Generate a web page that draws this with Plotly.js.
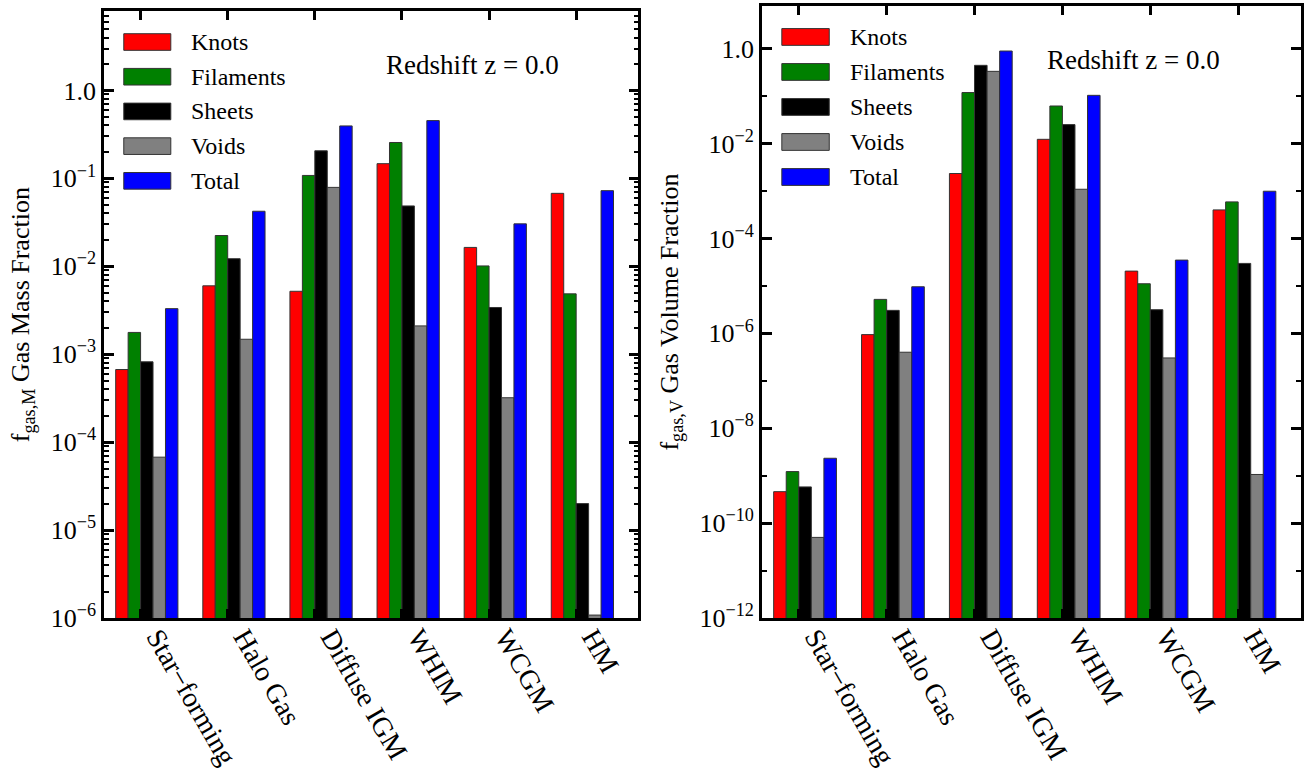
<!DOCTYPE html>
<html>
<head>
<meta charset="utf-8">
<script src="https://cdn.plot.ly/plotly-3.0.1.min.js"></script>
<style>
  html, body { margin: 0; padding: 0; background: #ffffff; }
  #chart { width: 1312px; height: 776px; }
</style>
</head>
<body>
<div id="chart"></div>
<script>
// ---------------- data ----------------
const categories = ['Star\u2212forming', 'Halo Gas', 'Diffuse IGM', 'WHIM', 'WCGM', 'HM'];
const seriesNames = ['Knots', 'Filaments', 'Sheets', 'Voids', 'Total'];
const seriesColors = ['#ff0000', '#008000', '#000000', '#808080', '#0000ff'];

// gas mass fraction (left panel)
const massKnots     = [6.7e-4, 6.0e-3, 5.2e-3, 0.147, 0.0164, 0.0676];
const massFilaments = [1.77e-3, 0.0224, 0.108, 0.256, 0.0101, 4.86e-3];
const massSheets    = [8.2e-4, 0.0122, 0.206, 0.0486, 3.4e-3, 2.0e-5];
const massVoids     = [6.75e-5, 1.48e-3, 0.079, 2.1e-3, 3.2e-4, 1.08e-6];
const massTotal     = [3.3e-3, 0.0423, 0.395, 0.454, 0.0304, 0.0725];

// gas volume fraction (right panel)
const volKnots     = [4.6e-10, 9.4e-7, 2.34e-3, 0.0123, 2.05e-5, 4.0e-4];
const volFilaments = [1.22e-9, 5.2e-6, 0.119, 0.062, 1.11e-5, 5.9e-4];
const volSheets    = [5.8e-10, 3.05e-6, 0.446, 0.0251, 3.15e-6, 2.98e-5];
const volVoids     = [5.0e-11, 4.0e-7, 0.333, 1.09e-3, 3.03e-7, 1.06e-9];
const volTotal     = [2.33e-9, 9.6e-6, 0.893, 0.104, 3.5e-5, 9.9e-4];

// tick labels
const massTickVals = [1e-6, 1e-5, 1e-4, 1e-3, 1e-2, 1e-1, 1];
const massTickText = ['10<sup>\u22126</sup>', '10<sup>\u22125</sup>', '10<sup>\u22124</sup>',
                      '10<sup>\u22123</sup>', '10<sup>\u22122</sup>', '10<sup>\u22121</sup>', '1.0'];
const volTickVals = [1e-12, 1e-10, 1e-8, 1e-6, 1e-4, 1e-2, 1];
const volTickText = ['10<sup>\u221212</sup>', '10<sup>\u221210</sup>', '10<sup>\u22128</sup>',
                     '10<sup>\u22126</sup>', '10<sup>\u22124</sup>', '10<sup>\u22122</sup>', '1.0'];
const redshiftLabel = 'Redshift z = 0.0';

// ---------------- build ----------------
const massSeries = [massKnots, massFilaments, massSheets, massVoids, massTotal];
const volSeries  = [volKnots, volFilaments, volSheets, volVoids, volTotal];
const positions = categories.map((c, i) => i);
const barW = 1 / 7;
const FONT = "'Liberation Serif', 'Times New Roman', serif";

const traces = [];
function addPanel(series, xa, ya) {
  series.forEach((vals, k) => {
    traces.push({
      type: 'bar',
      x: positions,
      y: vals,
      name: seriesNames[k],
      xaxis: xa, yaxis: ya,
      width: barW,
      offset: (k - 2) * barW,
      marker: { color: seriesColors[k], line: { color: '#333333', width: 1 } },
      showlegend: false,
      hoverinfo: 'skip'
    });
  });
}
addPanel(massSeries, 'x', 'y');
addPanel(volSeries, 'x2', 'y2');

// minor tick positions
const massMinor = [];
for (let e = -6; e < 1; e++) for (let m = 2; m <= 9; m++) {
  const v = m * Math.pow(10, e);
  if (Math.log10(v) <= 0.9) massMinor.push(v);
}
const volMinor = [];
for (let e = -11; e <= 0; e += 2) volMinor.push(Math.pow(10, e));

const xAxisBase = {
  type: 'linear',
  range: [-0.42, 5.715],
  tickmode: 'array',
  tickvals: positions,
  ticktext: categories,
  tickangle: 60,
  ticklabelshift: 17,
  ticklabelstandoff: -11,
  ticks: 'inside',
  ticklen: 9,
  tickwidth: 2.5,
  tickcolor: '#000',
  showline: true,
  linecolor: '#000',
  linewidth: 2.5,
  mirror: 'allticks',
  showgrid: false,
  zeroline: false,
  automargin: false,
  tickfont: { family: FONT, size: 28, color: '#000' }
};

const yAxisBase = {
  type: 'log',
  tickmode: 'array',
  ticks: 'inside',
  ticklen: 10,
  tickwidth: 2.5,
  tickcolor: '#000',
  showline: true,
  linecolor: '#000',
  linewidth: 2.5,
  mirror: 'allticks',
  showgrid: false,
  zeroline: false,
  automargin: false,
  tickfont: { family: FONT, size: 26, color: '#000' }
};

// custom legend (shapes + text), one per panel
const shapes = [];
const annotations = [];
function addLegend(xref, yref) {
  seriesNames.forEach((nm, k) => {
    const yc = 0.9494 - k * 0.0572;
    shapes.push({
      type: 'rect', xref: xref, yref: yref,
      x0: 0.037, x1: 0.125, y0: yc - 0.0137, y1: yc + 0.0137,
      fillcolor: seriesColors[k], line: { color: '#333333', width: 1 }
    });
    annotations.push({
      xref: xref, yref: yref, x: 0.159, y: yc,
      xanchor: 'left', yanchor: 'middle', showarrow: false,
      text: nm, font: { family: FONT, size: 24, color: '#000' }
    });
  });
  annotations.push({
    xref: xref, yref: yref, x: 0.689, y: 0.912,
    xanchor: 'center', yanchor: 'middle', showarrow: false,
    text: redshiftLabel, font: { family: FONT, size: 27, color: '#000' }
  });
}
addLegend('x domain', 'y domain');
addLegend('x2 domain', 'y2 domain');

const layout = {
  width: 1312, height: 776,
  margin: { l: 104, r: 11.3, t: 5.7, b: 158 },
  paper_bgcolor: '#ffffff',
  plot_bgcolor: '#ffffff',
  barmode: 'overlay',
  showlegend: false,
  font: { family: FONT, size: 26, color: '#000' },
  xaxis: Object.assign({}, xAxisBase, { domain: [0, 0.4465], anchor: 'y' }),
  xaxis2: Object.assign({}, xAxisBase, { domain: [0.5496, 1], anchor: 'y2' }),
  yaxis: Object.assign({}, yAxisBase, {
    domain: [0, 0.9913], anchor: 'x',
    range: [-6, 0.9],
    tickvals: massTickVals, ticktext: massTickText,
    minor: { tickmode: 'array', tickvals: massMinor, ticks: 'inside', ticklen: 5, tickwidth: 2, tickcolor: '#000', showgrid: false },
    title: { text: 'f<sub>gas,M</sub> Gas Mass Fraction', standoff: 14, font: { family: FONT, size: 26, color: '#000' } }
  }),
  yaxis2: Object.assign({}, yAxisBase, {
    domain: [0, 1], anchor: 'x2',
    range: [-12, 0.9],
    tickvals: volTickVals, ticktext: volTickText,
    minor: { tickmode: 'array', tickvals: volMinor, ticks: 'inside', ticklen: 5, tickwidth: 2, tickcolor: '#000', showgrid: false },
    title: { text: 'f<sub>gas,V</sub> Gas Volume Fraction', standoff: 14, font: { family: FONT, size: 26, color: '#000' } }
  }),
  shapes: shapes,
  annotations: annotations
};

Plotly.newPlot('chart', traces, layout, { displayModeBar: false });
</script>
</body>
</html>
